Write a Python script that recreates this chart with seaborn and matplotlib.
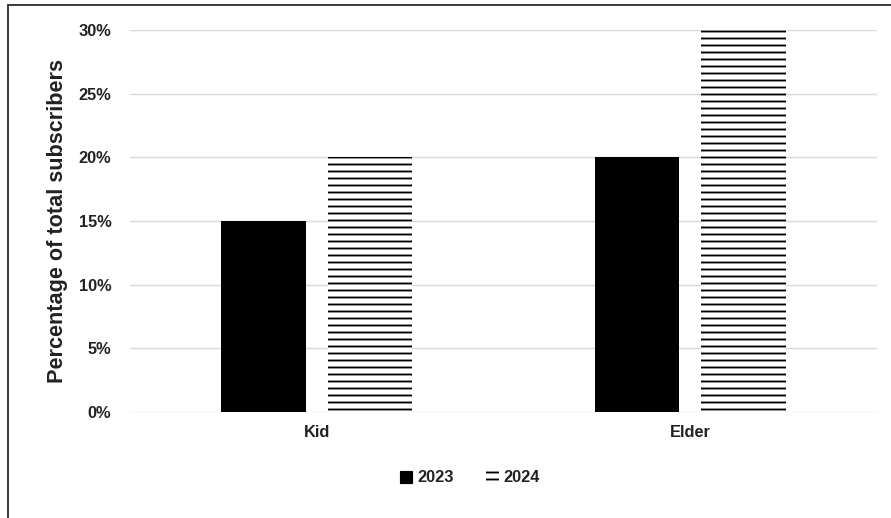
import pandas as pd
import matplotlib.pyplot as plt
import matplotlib.patches as mpatches
import matplotlib.lines as mlines
import seaborn as sns
from matplotlib.ticker import PercentFormatter

# Data
groups = ['Kid', 'Elder']
years = ['2023', '2024']
share_2023 = [0.15, 0.20]
share_2024 = [0.20, 0.30]

data = pd.DataFrame({
    'group': groups * 2,
    'year': [years[0]] * 2 + [years[1]] * 2,
    'share': share_2023 + share_2024,
})

sns.set_style('white')
plt.rcParams['font.family'] = ['Liberation Sans', 'DejaVu Sans']
plt.rcParams['hatch.linewidth'] = 1.6
plt.rcParams['hatch.color'] = 'black'

DPI = 84
fig = plt.figure(figsize=(891 / DPI, 518 / DPI), dpi=DPI)
ax = fig.add_axes([130 / 891, 1 - 412 / 518, 747 / 891, 382 / 518])

sns.barplot(
    data=data, x='group', y='share', hue='year',
    palette={'2023': 'black', '2024': 'white'},
    width=0.57, gap=0.21, ax=ax, legend=False,
    edgecolor='none', linewidth=0,
)

# 2024 bars get horizontal hatching
for bar in ax.patches[len(groups):]:
    bar.set_hatch('--')
    bar.set_edgecolor('black')
    bar.set_linewidth(0)

ax.set_ylim(0, 0.30)
ax.set_yticks([0, 0.05, 0.10, 0.15, 0.20, 0.25, 0.30])
ax.yaxis.set_major_formatter(PercentFormatter(1.0, decimals=0))
ax.grid(axis='y', color='#d9d9d9', linewidth=1.2)
ax.set_axisbelow(True)
sns.despine(ax=ax, left=True, bottom=True)
ax.tick_params(axis='both', length=0, labelsize=14, colors='#222222')
ax.tick_params(axis='y', pad=16)
ax.tick_params(axis='x', pad=11)
for lab in ax.get_xticklabels() + ax.get_yticklabels():
    lab.set_fontweight('bold')

ax.set_xlabel('')
ax.set_ylabel('Percentage of total subscribers', fontsize=18.5,
              fontweight='bold', color='#222222', labelpad=9)

handles = [
    mpatches.Patch(facecolor='black', edgecolor='black', label='2023'),
    mpatches.Patch(facecolor='white', edgecolor='black', linewidth=0,
                   hatch='--', label='2024'),
]
fig.legend(handles=handles, loc='center', bbox_to_anchor=(470 / 891, 1 - 478 / 518),
           ncol=2, frameon=False, prop={'weight': 'bold', 'size': 14},
           handlelength=0.75, handleheight=0.75, handletextpad=0.3, columnspacing=2.0,
           labelcolor='#222222')

# frame lines along the top and left of the image
fig.add_artist(mlines.Line2D([8 / 891, 1], [1 - 5 / 518] * 2, color='#333333', linewidth=1.6))
fig.add_artist(mlines.Line2D([8 / 891] * 2, [0, 1 - 5 / 518], color='#333333', linewidth=1.6))

fig.savefig('out.png', dpi=DPI)
